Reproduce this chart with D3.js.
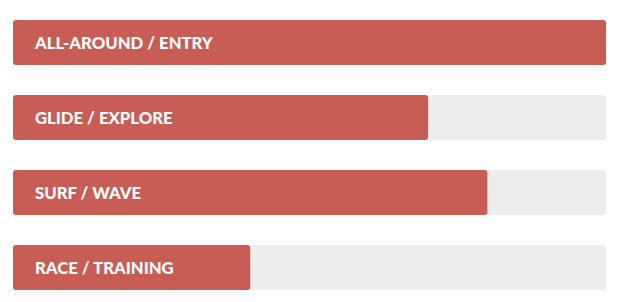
<!DOCTYPE html>
<html><head><meta charset="utf-8">
<script src="https://cdn.jsdelivr.net/npm/d3@7"></script>
<style>html,body{margin:0;padding:0;background:#fff;}svg{display:block;}</style>
</head><body>
<svg id="chart" width="629" height="302"></svg>
<script>
const categories = ["ALL-AROUND / ENTRY", "GLIDE / EXPLORE", "SURF / WAVE", "RACE / TRAINING"];
const values = [100, 70, 80, 40];
const maxValue = 100;

const svg = d3.select("#chart");
const x = d3.scaleLinear().domain([0, maxValue]).range([13, 606]);
const y = d3.scaleBand().domain(categories).range([20, 290]).paddingInner(30/75).paddingOuter(0);
const g = svg.selectAll("g.row").data(categories).join("g").attr("class","row");
g.append("rect").attr("x", x(0)).attr("y", d => y(d)).attr("width", x(maxValue)-x(0))
  .attr("height", y.bandwidth()).attr("rx", 3).attr("fill", "#ededed");
g.append("rect").attr("x", x(0)).attr("y", d => y(d)).attr("width", (d,i) => x(values[i]) - x(0))
  .attr("height", y.bandwidth()).attr("rx", 3).attr("fill", "#c85d56");
g.append("text").attr("x", 35).attr("y", d => y(d) + y.bandwidth()/2 + 6)
  .attr("fill", "#fff").attr("font-family", "Lato, 'Open Sans', sans-serif")
  .attr("font-weight", 900).attr("font-size", 16.7).text(d => d);
</script>
</body></html>
